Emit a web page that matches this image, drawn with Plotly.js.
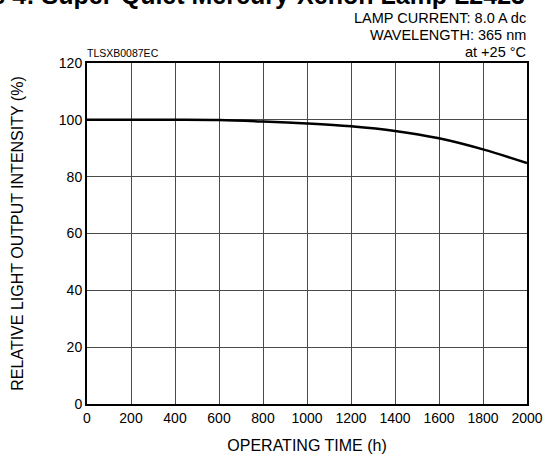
<!DOCTYPE html>
<html>
<head>
<meta charset="utf-8">
<script src="https://cdn.plot.ly/plotly-3.0.1.min.js"></script>
<style>html,body{margin:0;padding:0;background:#fff;}#chart{width:549px;height:466px;}</style>
</head>
<body>
<div id="chart"></div>
<script>
const operatingTime = [0, 200, 400, 600, 800, 1000, 1200, 1400, 1600, 1800, 2000];
const relativeIntensity = [100, 100, 100, 99.9, 99.4, 98.7, 97.7, 96.1, 93.5, 89.6, 84.8];
const xTicks = [0, 200, 400, 600, 800, 1000, 1200, 1400, 1600, 1800, 2000];
const yTicks = [0, 20, 40, 60, 80, 100, 120];

const font = {family: 'Liberation Sans, Arial, sans-serif', color: '#000'};
const f = (size) => Object.assign({size: size}, font);

const trace = {
  x: operatingTime, y: relativeIntensity, type: 'scatter', mode: 'lines',
  line: {color: '#000', width: 2.5, shape: 'spline', smoothing: 1},
  hoverinfo: 'skip'
};

const layout = {
  width: 549, height: 466,
  margin: {l: 87, r: 22, t: 63, b: 62},
  paper_bgcolor: '#fff', plot_bgcolor: '#fff',
  showlegend: false,
  font: f(14),
  xaxis: {
    range: [0, 2000], tickvals: xTicks, ticktext: xTicks.map(String),
    showgrid: true, gridcolor: '#4a4a4a', gridwidth: 1,
    showline: true, linecolor: '#000', linewidth: 2, mirror: true,
    ticks: '', zeroline: false, tickfont: f(14), automargin: false,
    title: {text: 'OPERATING TIME (h)', font: f(16), standoff: 15}
  },
  yaxis: {
    range: [0, 120], tickvals: yTicks, ticktext: yTicks.map(String),
    showgrid: true, gridcolor: '#4a4a4a', gridwidth: 1,
    showline: true, linecolor: '#000', linewidth: 2, mirror: true,
    ticks: '', zeroline: false, tickfont: f(14), automargin: false,
    title: {text: 'RELATIVE LIGHT OUTPUT INTENSITY (%)', font: f(16), standoff: 31}
  },
  annotations: [
    {text: '<b>Figure 4: Super-Quiet Mercury-Xenon Lamp L2423</b>', xref: 'paper', yref: 'paper',
     x: 0.973, y: 1, xanchor: 'right', yanchor: 'bottom', yshift: 52, xshift: 12, showarrow: false,
     font: f(25)},
    {text: 'LAMP CURRENT: 8.0 A dc', xref: 'paper', yref: 'paper', x: 1, y: 1, xanchor: 'right', yanchor: 'middle',
     yshift: 45, xshift: 1, showarrow: false, font: f(14.5)},
    {text: 'WAVELENGTH: 365 nm', xref: 'paper', yref: 'paper', x: 1, y: 1, xanchor: 'right', yanchor: 'middle',
     yshift: 28, xshift: 1, showarrow: false, font: f(14.5)},
    {text: 'at +25 °C', xref: 'paper', yref: 'paper', x: 1, y: 1, xanchor: 'right', yanchor: 'middle',
     yshift: 11, xshift: 1, showarrow: false, font: f(14.5)},
    {text: 'TLSXB0087EC', xref: 'paper', yref: 'paper', x: 0, y: 1, xanchor: 'left', yanchor: 'middle',
     yshift: 10, xshift: -2, showarrow: false, font: f(10.5)}
  ]
};

Plotly.newPlot('chart', [trace], layout, {displayModeBar: false, staticPlot: true});
</script>
</body>
</html>
